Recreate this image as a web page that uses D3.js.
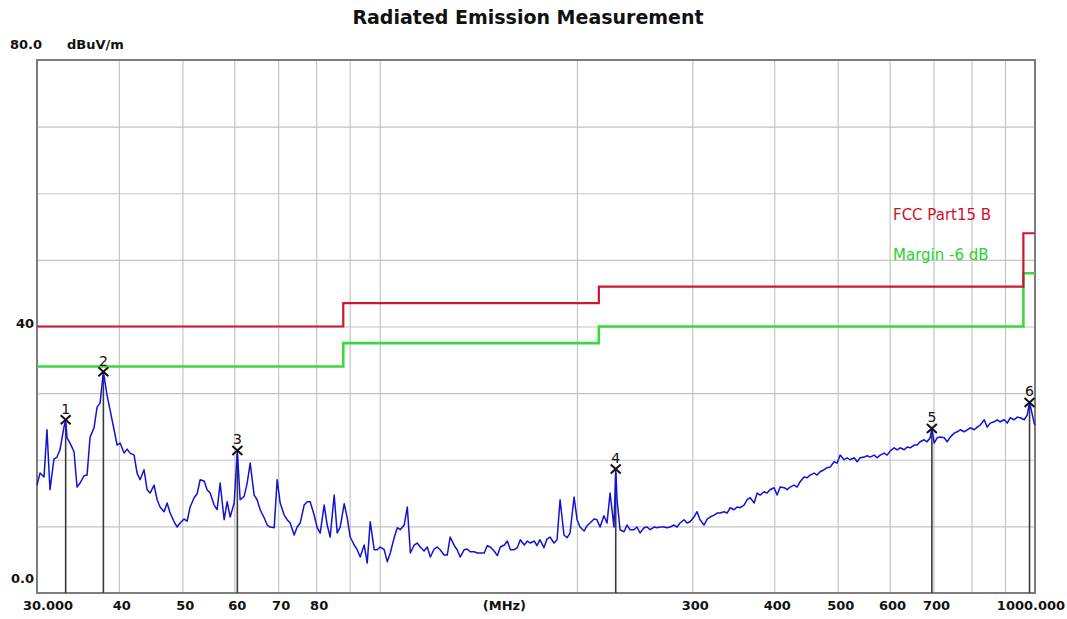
<!DOCTYPE html>
<html>
<head>
<meta charset="utf-8">
<script src="https://cdn.jsdelivr.net/npm/d3@7"></script>
<style>
  html, body { margin: 0; padding: 0; background: #fff; }
  svg { display: block; font-family: "DejaVu Sans", Verdana, sans-serif; }
</style>
</head>
<body>
<svg id="chart" width="1067" height="619"></svg>
<script>
// Measured peak trace: frequency (MHz) and level (dBuV/m)
const traceFreq = [
  30.00, 30.32, 30.75, 31.07, 31.40, 31.84, 32.18, 32.52, 32.98, 33.18, 33.34, 33.69, 34.17, 34.53, 34.90, 35.39, 35.77,
  36.15, 36.66, 37.05, 37.44, 37.88, 38.37, 38.78, 39.33, 39.75, 40.17, 40.74, 41.17, 41.61, 42.20, 42.64, 43.09, 43.70,
  44.17, 44.64, 45.27, 45.75, 46.23, 46.89, 47.39, 47.89, 48.57, 49.08, 49.60, 50.30, 50.84, 51.38, 52.11, 52.66, 53.22,
  53.97, 54.54, 55.12, 55.90, 56.49, 57.09, 57.90, 58.52, 59.14, 59.98, 60.65, 61.25, 62.12, 62.78, 63.45, 64.34, 65.02,
  65.71, 66.64, 67.35, 68.06, 69.03, 69.76, 70.50,
  71.50, 72.25, 73.02, 74.05, 74.84, 75.63, 76.70, 77.51, 78.33, 79.44, 80.29, 81.14, 82.29, 83.16, 84.04, 85.23, 86.14,
  87.05, 88.29, 89.22, 90.17, 91.44, 92.41, 93.39, 94.71, 95.72, 96.73, 98.10, 99.14, 100.2, 101.6, 102.7, 103.8, 105.3,
  106.4, 107.5, 109.0, 110.2, 111.4, 112.9, 114.1, 115.3, 116.9, 118.2, 119.5, 121.1, 122.4, 123.7, 125.4, 126.8, 128.1,
  130.0, 131.3, 132.7, 134.6, 136.0, 137.4, 139.4, 140.9, 142.4, 144.4, 145.9, 147.5, 149.5, 151.2, 152.8, 155.0, 156.6,
  158.3, 160.5, 162.2, 163.9, 166.2, 168.0, 169.8, 172.2, 173.8, 175.6, 178.1, 180.0, 181.9, 184.5, 186.5, 188.5, 191.1,
  193.2, 195.2, 198.0, 200.1, 202.2,
  205.1, 207.2, 209.4, 212.4, 214.6, 216.9, 219.9, 222.3, 224.7, 227.8, 229.2, 230.3, 232.7, 236.0, 238.5, 241.0, 244.4,
  247.0, 249.6, 253.2, 255.9, 258.6, 262.3, 265.0, 267.8, 271.6, 274.5, 277.4, 281.3, 284.3, 287.3, 291.4, 294.5, 297.6,
  301.8, 305.0, 308.2, 312.6, 316.0, 319.3, 323.9, 327.3, 330.8, 335.4, 339.0, 342.6, 347.4, 351.1, 354.8, 359.8, 363.7,
  367.6, 372.8, 376.7, 380.7, 386.1, 390.1, 394.2, 399.8, 404.1, 408.4, 414.2, 418.6, 423.0, 429.0, 433.5, 438.1,
  444.3, 449.0, 453.8, 460.2, 465.1, 470.0, 476.7, 481.7, 486.8, 493.7, 499.0, 504.3, 511.4, 516.8, 522.3, 529.7, 535.3,
  541.0, 548.6, 554.5, 560.4, 568.3, 574.3, 580.4, 588.6, 594.8, 601.1, 609.6, 616.1, 622.6, 631.4, 638.2, 645.0, 654.1,
  661.0, 668.0, 677.5, 684.6, 691.9, 696.0, 701.7, 709.1, 716.6, 726.8, 734.5, 742.3, 752.8, 760.8, 768.9, 779.8, 788.0,
  796.4, 807.6, 816.2, 824.9, 836.5, 845.4, 854.4, 866.5, 875.6, 884.9, 897.4, 906.9, 916.5, 929.5, 939.4, 949.4, 962.8,
  973.0, 981.0, 997.2, 1000.0
];
const traceLevel = [
  16.2, 18.0, 17.4, 24.5, 15.5, 20.1, 20.4, 21.5, 24.9, 26.0, 23.3, 22.5, 21.2, 15.9, 16.5, 17.6, 17.7,
  23.4, 24.8, 27.9, 28.5, 33.2, 29.7, 27.5, 24.5, 22.2, 22.5, 21.0, 21.6, 21.0, 20.7, 18.0, 17.0, 18.5,
  15.5, 15.0, 16.2, 14.0, 12.9, 12.2, 13.5, 12.0, 10.7, 9.9, 10.5, 11.1, 10.8, 12.9, 14.3, 14.9, 17.0,
  16.8, 15.5, 15.0, 13.2, 12.5, 16.5, 11.0, 13.7, 11.4, 13.5, 21.4, 14.0, 14.5, 16.5, 19.5, 14.7, 14.0,
  12.5, 11.3, 10.2, 9.9, 9.8, 17.0, 13.5,
  11.7, 11.0, 10.5, 8.7, 9.9, 10.5, 13.2, 13.7, 13.7, 11.7, 9.8, 9.0, 13.2, 10.2, 8.4, 14.7, 9.0,
  9.9, 13.4, 11.3, 8.4, 7.2, 6.5, 5.4, 7.2, 4.5, 10.7, 6.5, 6.5, 6.9, 6.5, 4.7, 6.0, 8.4,
  9.8, 9.5, 10.2, 12.9, 6.0, 7.2, 7.5, 6.9, 6.3, 6.9, 5.4, 6.6, 6.9, 6.5, 5.7, 5.7, 8.4,
  7.1, 6.5, 5.4, 6.5, 6.6, 6.2, 6.2, 6.0, 6.0, 6.0, 7.1, 6.9, 6.3, 5.6, 6.9, 7.2, 7.8,
  6.5, 6.5, 6.8, 8.0, 7.2, 7.8, 7.5, 7.8, 7.1, 8.0, 6.8, 8.1, 8.4, 7.5, 8.0, 14.0, 8.7,
  8.3, 9.0, 14.4, 11.0, 9.9,
  9.3, 10.1, 10.5, 11.1, 11.0, 9.9, 11.6, 10.5, 15.0, 9.9, 18.6, 14.0, 9.5, 9.2, 10.2, 9.5, 9.5,
  9.9, 9.0, 9.8, 9.9, 9.5, 9.9, 9.8, 9.9, 9.9, 9.8, 9.9, 10.2, 9.9, 10.5, 11.0, 10.5, 10.7,
  11.4, 12.2, 11.0, 10.2, 11.1, 11.4, 11.7, 12.0, 12.0, 12.2, 12.0, 12.8, 12.5, 12.9, 12.8, 13.2, 14.0,
  14.3, 13.5, 15.0, 14.7, 15.2, 15.0, 15.5, 15.8, 14.7, 15.9, 15.8, 15.5, 15.9, 16.2, 15.9, 16.7,
  17.4, 17.3, 17.7, 18.0, 17.7, 18.2, 18.5, 18.8, 18.9, 19.7, 19.5, 20.7, 20.0, 20.3, 20.0, 20.3, 19.7,
  20.3, 20.4, 20.6, 20.4, 20.7, 20.3, 20.7, 21.0, 20.7, 21.3, 21.8, 21.5, 21.8, 21.5, 21.9, 21.8, 22.2,
  22.2, 22.7, 23.0, 22.7, 23.3, 24.7, 22.5, 23.3, 23.4, 23.3, 22.7, 23.4, 24.0, 24.2, 24.5, 24.2, 24.5,
  24.8, 24.5, 24.9, 25.2, 26.0, 24.9, 25.5, 25.7, 26.0, 25.7, 26.0, 25.5, 26.3, 26.0, 26.4, 26.3, 26.0,
  26.7, 28.6, 25.5, 25.2
];

// FCC Part 15 Class B limit and the -6 dB margin line (step changes)
const limitFreq = [30, 88, 216, 960, 1000];
const limitLevel = [40, 43.5, 46, 54, 54];
const marginLevel = [34, 37.5, 40, 48, 48];

// Peak markers
const markerFreq = [33.18, 37.88, 60.65, 229.2, 696.0, 981.0];
const markerLevel = [26.0, 33.2, 21.4, 18.6, 24.7, 28.6];
const markerLabel = ["1", "2", "3", "4", "5", "6"];

// Grid and axis labels
const xGridMHz = [40, 50, 60, 70, 80, 90, 100, 200, 300, 400, 500, 600, 700, 800, 900];
const yGridDb = [10, 20, 30, 40, 50, 60, 70];
const xTickValues = [40, 50, 60, 70, 80, 300, 400, 500, 600, 700];
const xTickText = ["40", "50", "60", "70", "80", "300", "400", "500", "600", "700"];
const yTickValues = [40, 0];
const yTickText = ["40", "0.0"];

const svg = d3.select("#chart");
const plotLeft = 37, plotRight = 1035, plotTop = 60, plotBottom = 593;

const x = d3.scaleLog().domain([30, 1000]).range([plotLeft, plotRight]);
const y = d3.scaleLinear().domain([0, 80]).range([plotBottom, plotTop]);

// Title
svg.append("text")
  .attr("x", 528).attr("y", 24)
  .attr("text-anchor", "middle")
  .attr("font-size", 19).attr("font-weight", "bold")
  .attr("fill", "#111")
  .text("Radiated Emission Measurement");

// Grid lines
const grid = svg.append("g");
grid.append("g")
  .attr("transform", `translate(0,${plotBottom})`)
  .call(d3.axisBottom(x).tickValues(xGridMHz).tickSize(-(plotBottom - plotTop)).tickFormat(""))
  .call(g => g.select(".domain").remove())
  .call(g => g.selectAll("line").attr("stroke", "#c4c4c4").attr("stroke-width", 1.2));
grid.append("g")
  .attr("transform", `translate(${plotLeft},0)`)
  .call(d3.axisLeft(y).tickValues(yGridDb).tickSize(-(plotRight - plotLeft)).tickFormat(""))
  .call(g => g.select(".domain").remove())
  .call(g => g.selectAll("line").attr("stroke", "#c4c4c4").attr("stroke-width", 1.2));

// Plot frame
svg.append("rect")
  .attr("x", plotLeft).attr("y", plotTop)
  .attr("width", plotRight - plotLeft).attr("height", plotBottom - plotTop)
  .attr("fill", "none").attr("stroke", "#7d7d7d").attr("stroke-width", 2);

// Limit lines
const stepLine = d3.line().curve(d3.curveStepAfter)
  .x(d => x(d[0])).y(d => y(d[1]));
svg.append("path")
  .attr("d", stepLine(limitFreq.map((f, i) => [f, marginLevel[i]])))
  .attr("fill", "none").attr("stroke", "#3ed83e").attr("stroke-width", 2.6);
svg.append("path")
  .attr("d", stepLine(limitFreq.map((f, i) => [f, limitLevel[i]])))
  .attr("fill", "none").attr("stroke", "#cf1530").attr("stroke-width", 2.2);

// Legend
svg.append("text").attr("x", 893).attr("y", 220)
  .attr("font-size", 15).attr("fill", "#d0102a").text("FCC Part15 B");
svg.append("text").attr("x", 893).attr("y", 260)
  .attr("font-size", 15).attr("fill", "#28d428").text("Margin -6 dB");

// Marker drop lines
const markers = markerFreq.map((f, i) => ({ f, v: markerLevel[i], t: markerLabel[i] }));
svg.append("g").selectAll("line").data(markers).join("line")
  .attr("x1", d => x(d.f)).attr("x2", d => x(d.f))
  .attr("y1", d => y(d.v) + 4).attr("y2", plotBottom)
  .attr("stroke", "#3a3a3a").attr("stroke-width", 1.6);

// Trace
const traceLine = d3.line().x(d => x(d[0])).y(d => y(d[1]));
svg.append("path")
  .attr("d", traceLine(traceFreq.map((f, i) => [f, traceLevel[i]])))
  .attr("fill", "none").attr("stroke", "#1212d6").attr("stroke-width", 1.5)
  .attr("stroke-linejoin", "round");

// Marker crosses and numbers
const mg = svg.append("g").selectAll("g").data(markers).join("g")
  .attr("transform", d => `translate(${x(d.f)},${y(d.v)})`);
mg.append("path")
  .attr("d", "M-5,-4.5L5,4.5M-5,4.5L5,-4.5")
  .attr("stroke", "#111").attr("stroke-width", 2).attr("fill", "none");
mg.append("text")
  .attr("x", 0).attr("y", -6)
  .attr("text-anchor", "middle")
  .attr("font-size", 14).attr("fill", "#111")
  .text(d => d.t);

// Axis labels
const labels = svg.append("g").attr("font-weight", "bold").attr("font-size", 13).attr("fill", "#111");
labels.selectAll("text.xl").data(xTickValues).join("text")
  .attr("class", "xl")
  .attr("x", d => x(d) + 3).attr("y", 610)
  .attr("text-anchor", "middle")
  .text((d, i) => xTickText[i]);
labels.append("text").attr("x", x(30) + 11).attr("y", 610)
  .attr("text-anchor", "middle").text("30.000");
labels.append("text").attr("x", x(1000) - 4).attr("y", 610)
  .attr("text-anchor", "middle").text("1000.000");
labels.append("text").attr("x", x(155)).attr("y", 610)
  .attr("text-anchor", "middle").text("(MHz)");

// Level labels: the bottom one sits inside the frame, the 40 label rides on its grid line
labels.selectAll("text.yl").data(yTickValues).join("text")
  .attr("class", "yl")
  .attr("x", 34).attr("y", d => d === 0 ? y(d) - 10 : y(d) + 1)
  .attr("text-anchor", "end")
  .text((d, i) => yTickText[i]);
labels.append("text").attr("x", 10).attr("y", 49).text("80.0");
labels.append("text").attr("x", 67).attr("y", 49).text("dBuV/m");
</script>
</body>
</html>
